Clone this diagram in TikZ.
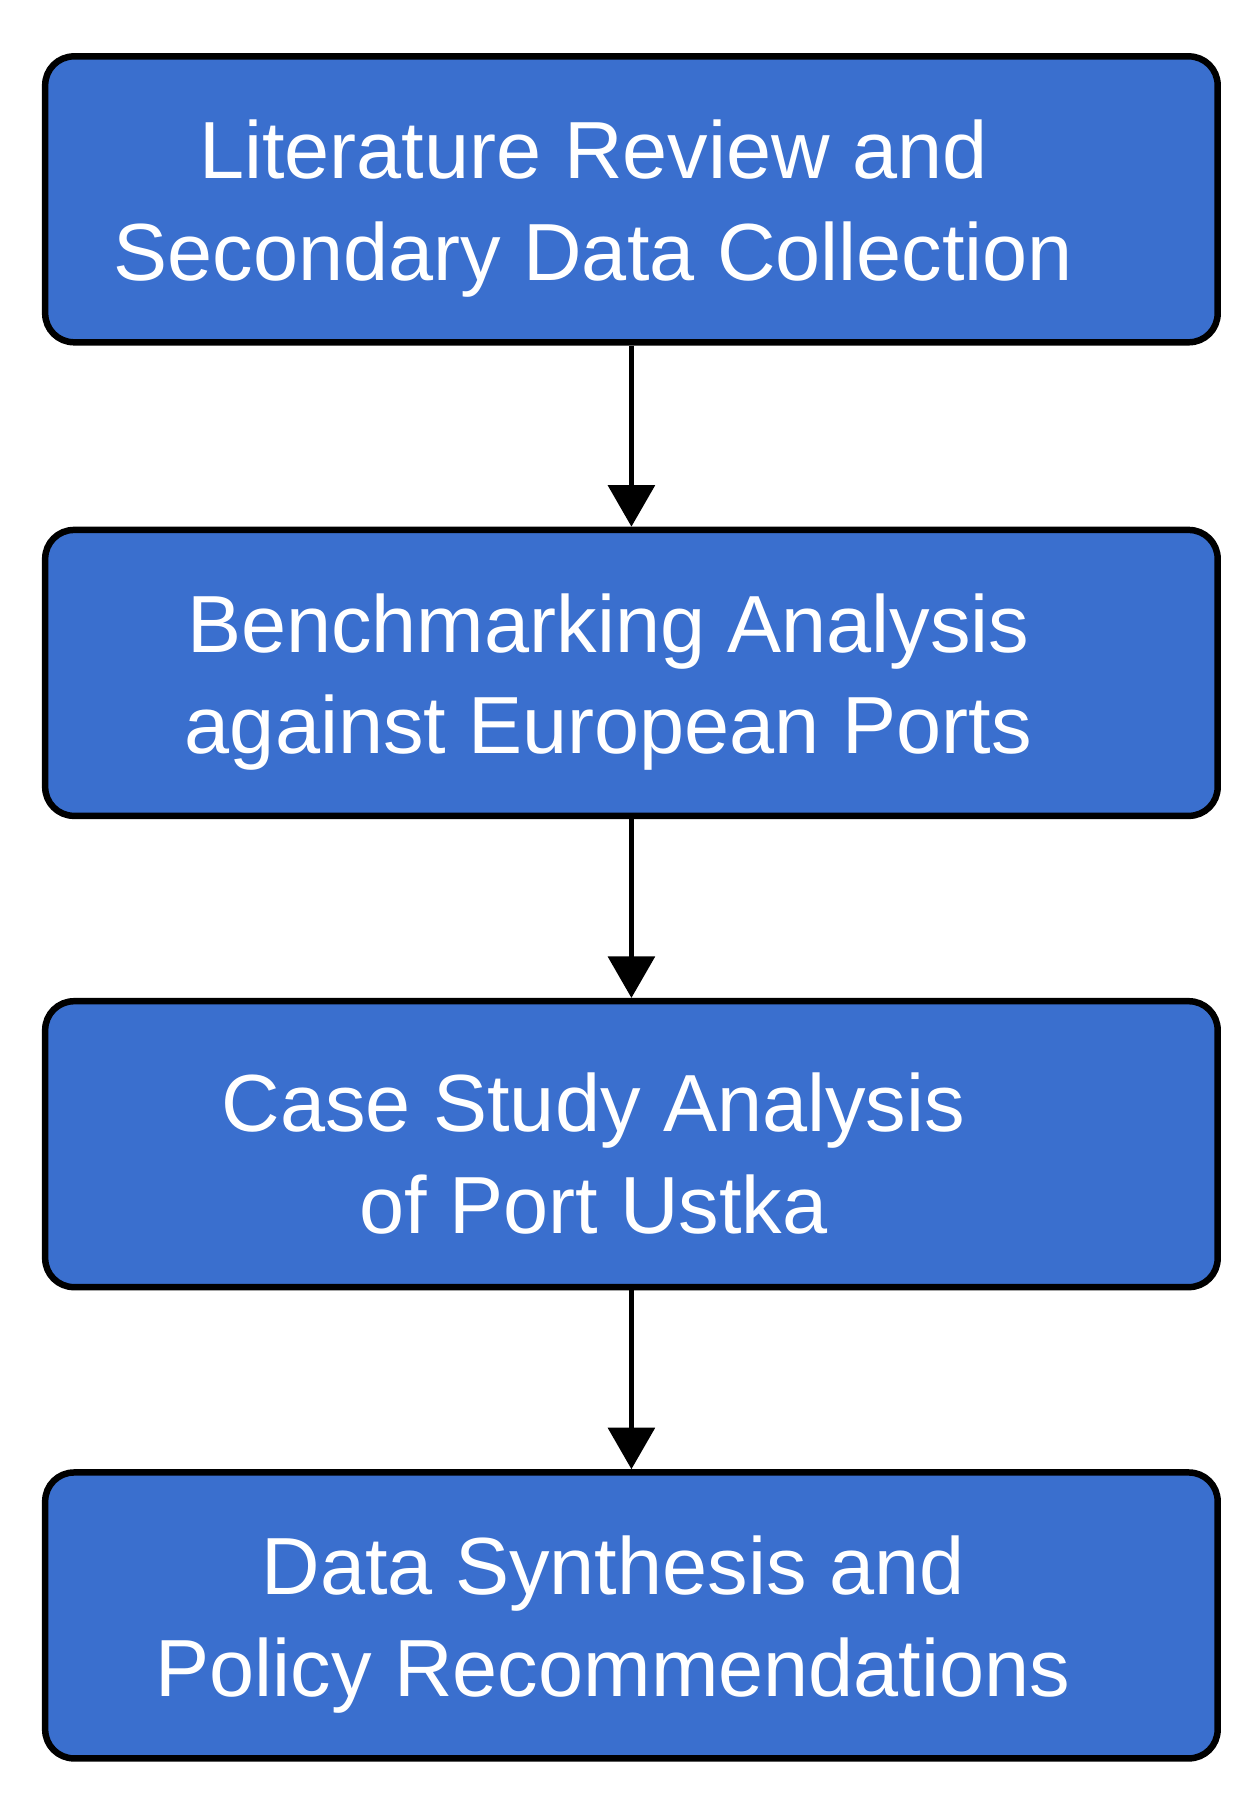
\documentclass[tikz,border=0pt]{standalone}
\usepackage{fontspec}
\setmainfont{Liberation Sans}
\usetikzlibrary{arrows.meta}
\definecolor{boxblue}{HTML}{3A6FCE}
\begin{document}
\begin{tikzpicture}[x=0.01cm,y=-0.01cm,
  box/.style={draw=black,line width=1.6pt,fill=boxblue,rounded corners=0.25cm,
    minimum width=10.17cm,minimum height=2.48cm},
  txt/.style={align=center,text=white,font=\fontsize{20}{25}\selectfont},
  arr/.style={-{Triangle[length=0.36cm,width=0.4cm]},line width=1.4pt}]
\useasboundingbox (0,0) rectangle (1090,1570);
\node[box] (b1) at (548,173) {};
\node[box] (b2) at (548,584) {};
\node[box] (b3) at (548,993) {};
\node[box] (b4) at (548,1402) {};
\node[txt] (t1) at (515,181) {Literature Review and\\Secondary Data Collection};
\node[txt] (t2) at (528,592) {Benchmarking Analysis\\against European Ports};
\node[txt] (t3) at (515,1001) {Case Study Analysis\\of Port Ustka};
\node[txt] (t4) at (532,1410) {Data Synthesis and\\Policy Recommendations};
\draw[arr] (b1) -- (b2);
\draw[arr] (b2) -- (b3);
\draw[arr] (b3) -- (b4);
\end{tikzpicture}
\end{document}
